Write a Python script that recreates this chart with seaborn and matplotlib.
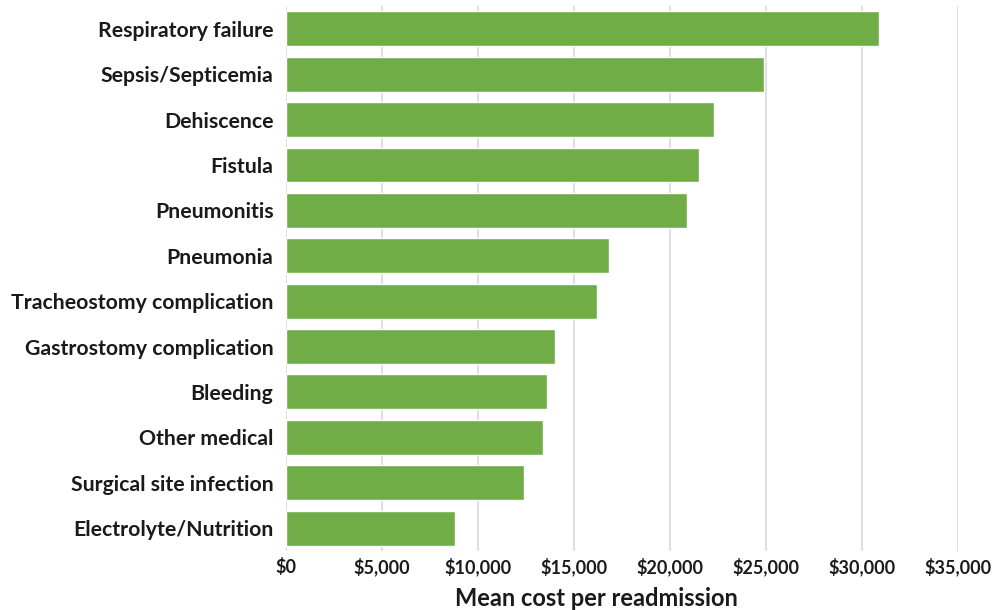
import matplotlib
matplotlib.use("Agg")
import matplotlib.pyplot as plt
import seaborn as sns
import pandas as pd
from matplotlib.ticker import FuncFormatter

complications = [
    "Respiratory failure",
    "Sepsis/Septicemia",
    "Dehiscence",
    "Fistula",
    "Pneumonitis",
    "Pneumonia",
    "Tracheostomy complication",
    "Gastrostomy complication",
    "Bleeding",
    "Other medical",
    "Surgical site infection",
    "Electrolyte/Nutrition",
]
mean_cost = [30900, 24900, 22300, 21500, 20900, 16800, 16200, 14000, 13600, 13400, 12400, 8800]

df = pd.DataFrame({"complication": complications, "cost": mean_cost})

sns.set_theme(style="white")
plt.rcParams["font.family"] = ["Lato", "DejaVu Sans"]

fig = plt.figure(figsize=(9.93, 6.1), dpi=100)
ax = fig.add_axes([0.288, 0.097, 0.677, 0.893])

sns.barplot(data=df, x="cost", y="complication", color="#70AD47",
            saturation=1, width=0.77, ax=ax, zorder=3)

ax.set_xlim(0, 35000)
ax.set_xticks(range(0, 35001, 5000))
ax.xaxis.set_major_formatter(FuncFormatter(lambda v, p: f"${int(v):,}"))
ax.grid(axis="x", color="#D9D9D9", linewidth=1.2, zorder=0)
ax.set_axisbelow(True)
for s in ax.spines.values():
    s.set_visible(False)

ax.tick_params(axis="both", length=0)
ax.tick_params(axis="x", labelsize=13, pad=5)
ax.tick_params(axis="y", labelsize=15.3, pad=9)
for lbl in ax.get_xticklabels() + ax.get_yticklabels():
    lbl.set_fontweight("bold")
    lbl.set_color("#1a1a1a")

ax.set_ylabel("")
ax.set_xlabel("")
fig.text(596 / 993, 1 - 599 / 610, "Mean cost per readmission", fontsize=17,
         fontweight="bold", color="#1a1a1a", ha="center", va="center")

fig.savefig("out.png", dpi=100)
